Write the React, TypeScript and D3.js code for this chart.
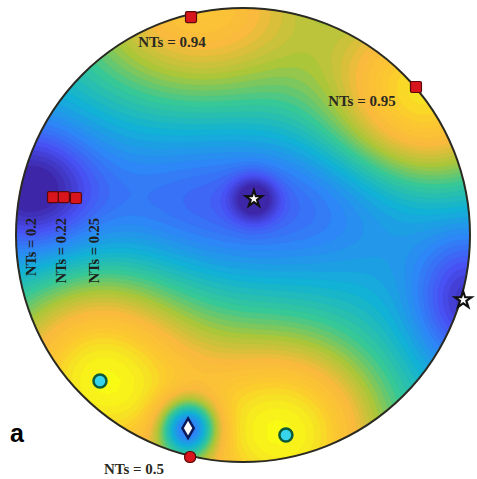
import React, { useEffect, useRef } from 'react';
import * as d3 from 'd3';

// field anchors, unit-disk coords (u to the right, v downwards)
const bumpU = [0.05, 0.02, -0.94, 0.99, -0.19, 0.8, -0.63, 0.19, -0.24];
const bumpV = [-0.16, -0.14, -0.2, 0.29, -1.0, -0.62, 0.64, 0.88, 0.85];
const bumpAmp = [-0.25, -0.2, -0.35, -0.3, 0.48, 0.58, 0.64, 0.64, -0.64];
const bumpSx = [0.07, 0.55, 0.2, 0.16, 0.4, 0.3, 0.32, 0.32, 0.09];
const bumpSy = [0.07, 0.2, 0.2, 0.2, 0.3, 0.3, 0.32, 0.32, 0.09];
const baseLevel = 0.35;

// red NTs markers
const redU = [-0.229, 0.762, -0.837, -0.789, -0.736, -0.233];
const redV = [-0.96, -0.652, -0.167, -0.167, -0.163, 0.978];

// horizontal labels
const hLabels = ['NTs = 0.94', 'NTs = 0.95', 'NTs = 0.5'];
const hLabelU = [-0.313, 0.524, -0.48];
const hLabelV = [-0.827, -0.568, 1.053];

// vertical labels
const vLabels = ['NTs = 0.2', 'NTs = 0.22', 'NTs = 0.25'];
const vLabelU = [-0.912, -0.78, -0.634];
const vLabelV = -0.075;

// white symbols
const starU = [0.048, 0.97];
const starV = [-0.159, 0.286];
const diamondU = [-0.242];
const diamondV = [0.851];

// cyan circles
const cyanU = [-0.63, 0.189];
const cyanV = [0.643, 0.881];

const colorStops = [0, 0.125, 0.25, 0.375, 0.5, 0.625, 0.75, 0.86, 0.94, 1];
const colorRGB = [
  [0.2422, 0.1504, 0.6603],
  [0.281, 0.3228, 0.9579],
  [0.1786, 0.5289, 0.9682],
  [0.0689, 0.6948, 0.8394],
  [0.2161, 0.7843, 0.5923],
  [0.672, 0.7793, 0.2227],
  [0.98, 0.73, 0.24],
  [0.99, 0.79, 0.19],
  [0.965, 0.9, 0.13],
  [0.9769, 0.9839, 0.0805],
];
const parula = d3.scaleLinear<string>()
  .domain(colorStops)
  .range(colorRGB.map(c => d3.rgb(c[0] * 255, c[1] * 255, c[2] * 255).toString()))
  .interpolate(d3.interpolateRgb);

const W = 477, H = 479;
const cx = 243, cy = 235, R = 227;

const App: React.FC = () => {
  const svgRef = useRef<SVGSVGElement>(null);

  useEffect(() => {
    if (!svgRef.current) return;
    const svg = d3.select(svgRef.current);
    svg.selectAll('*').remove();

    const x = d3.scaleLinear().domain([-1, 1]).range([cx - R, cx + R]);
    const y = d3.scaleLinear().domain([-1, 1]).range([cy - R, cy + R]);

    const n = 180;
    const values = new Array(n * n);
    for (let j = 0; j < n; j++) {
      for (let i = 0; i < n; i++) {
        const u = -1 + (2 * (i + 0.5)) / n;
        const v = -1 + (2 * (j + 0.5)) / n;
        let f = baseLevel;
        bumpU.forEach((bu, k) => {
          const du = u - bu, dv = v - bumpV[k];
          f += bumpAmp[k] * Math.exp(-(du * du) / (2 * bumpSx[k] ** 2) - (dv * dv) / (2 * bumpSy[k] ** 2));
        });
        values[j * n + i] = Math.max(0, Math.min(1, f));
      }
    }

    const levels = d3.range(0, 1.0001, 0.025);
    const contours = d3.contours().size([n, n]).thresholds(levels)(values);
    const path = d3.geoPath(d3.geoIdentity().scale((2 * R) / n).translate([cx - R, cy - R]) as any);

    svg.append('clipPath').attr('id', 'disk')
      .append('circle').attr('cx', cx).attr('cy', cy).attr('r', R);

    svg.append('g')
      .attr('clip-path', 'url(#disk)')
      .selectAll('path')
      .data(contours)
      .enter()
      .append('path')
      .attr('d', d => path(d as any))
      .attr('fill', d => parula(d.value))
      .attr('stroke', d => parula(d.value))
      .attr('stroke-width', 0.3);

    svg.append('circle')
      .attr('cx', cx).attr('cy', cy).attr('r', R)
      .attr('fill', 'none')
      .attr('stroke', '#2a2a22')
      .attr('stroke-width', 2);

    // red squares
    svg.selectAll('.red')
      .data(redU)
      .enter()
      .append('rect')
      .attr('x', d => x(d) - 5.5)
      .attr('y', (d, i) => y(redV[i]) - 5.5)
      .attr('width', 11).attr('height', 11)
      .attr('rx', (d, i) => (i === 5 ? 5 : 1.5))
      .attr('fill', '#d8141c')
      .attr('stroke', '#5a0808')
      .attr('stroke-width', 1.2);

    // white stars
    svg.selectAll('.star')
      .data(starU)
      .enter()
      .append('path')
      .attr('transform', (d, i) => `translate(${x(d)},${y(starV[i])})`)
      .attr('d', d3.symbol().type(d3.symbolStar).size(85)() as string)
      .attr('fill', '#ffffff')
      .attr('stroke', '#111')
      .attr('stroke-width', 2.2);

    svg.selectAll('.diamond')
      .data(diamondU)
      .enter()
      .append('path')
      .attr('transform', (d, i) => `translate(${x(d)},${y(diamondV[i])})`)
      .attr('d', d3.symbol().type(d3.symbolDiamond).size(110)() as string)
      .attr('fill', '#ffffff')
      .attr('stroke', '#0c1a5a')
      .attr('stroke-width', 2.5);

    svg.selectAll('.cyan')
      .data(cyanU)
      .enter()
      .append('circle')
      .attr('cx', d => x(d))
      .attr('cy', (d, i) => y(cyanV[i]))
      .attr('r', 6.5)
      .attr('fill', '#38d4ec')
      .attr('stroke', '#0b5a3a')
      .attr('stroke-width', 2.5);

    svg.selectAll('.hlab')
      .data(hLabels)
      .enter()
      .append('text')
      .attr('x', (d, i) => x(hLabelU[i]))
      .attr('y', (d, i) => y(hLabelV[i]))
      .attr('text-anchor', 'middle')
      .attr('font-family', '"Liberation Serif", serif')
      .attr('font-weight', 'bold')
      .attr('font-size', 15)
      .attr('fill', '#2a2a22')
      .text(d => d);

    svg.selectAll('.vlab')
      .data(vLabels)
      .enter()
      .append('text')
      .attr('transform', (d, i) => `translate(${x(vLabelU[i])},${y(vLabelV)}) rotate(-90)`)
      .attr('text-anchor', 'end')
      .attr('font-family', '"Liberation Serif", serif')
      .attr('font-weight', 'bold')
      .attr('font-size', 14.5)
      .attr('fill', '#1e1e1a')
      .text(d => d);

    svg.append('text')
      .attr('x', 10)
      .attr('y', 442)
      .attr('font-family', '"Liberation Sans", Arial, sans-serif')
      .attr('font-weight', 'bold')
      .attr('font-size', 25)
      .attr('fill', '#000')
      .text('a');
  }, []);

  return (
    <svg
      ref={svgRef}
      width={W}
      height={H}
      style={{ position: 'absolute', left: 0, top: 0, display: 'block', background: '#fff' }}
    />
  );
};

export default App;
